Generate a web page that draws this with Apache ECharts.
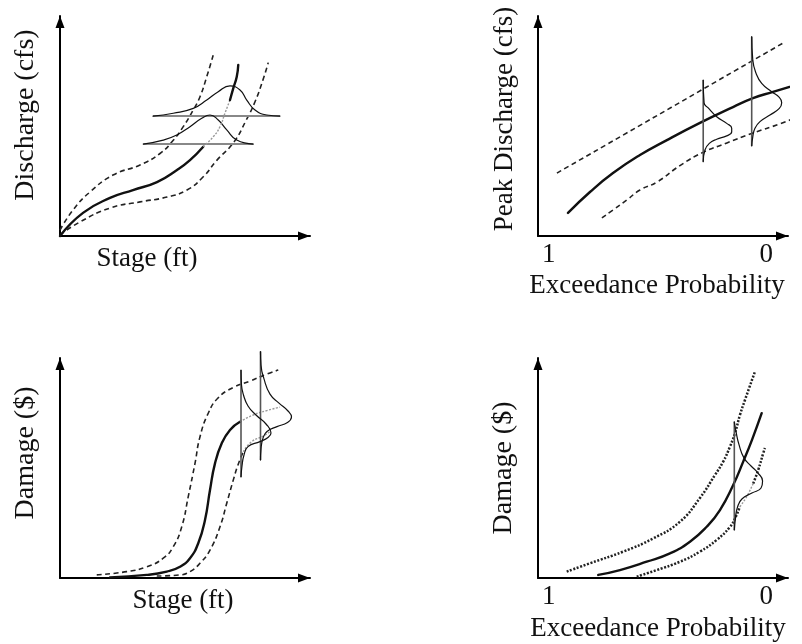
<!DOCTYPE html>
<html>
<head>
<meta charset="utf-8">
<script src="https://cdn.jsdelivr.net/npm/echarts@6/dist/echarts.min.js"></script>
<style>
  html, body { margin: 0; padding: 0; background: #fff; }
  #chart { width: 802px; height: 644px; }
</style>
</head>
<body>
<div id="chart"></div>
<script>
// ---- Panel A: stage–discharge rating curve (arbitrary units 0–10) ----
const ratingLow   = [[0,0],[0.92,1.05],[2.0,1.73],[2.92,2.09],[3.88,2.45],[4.68,3.0],[5.2,3.45],[5.73,4.06]];
const ratingMid   = [[5.73,4.06],[6.13,4.51],[6.4,4.97],[6.6,5.59],[6.8,6.18]];
const ratingHigh  = [[6.8,6.18],[6.93,6.71],[7.07,7.24],[7.13,7.77]];
const ratingUpper = [[0,0.27],[0.52,1.18],[1.2,2.0],[2.12,2.77],[3.2,3.23],[4.0,3.75],[4.53,4.35],[4.93,4.97],[5.33,5.73],[5.6,6.33],[5.87,7.24],[6.13,8.23]];
const ratingLower = [[0,0.05],[0.8,0.64],[2.0,1.27],[3.2,1.55],[4.28,1.77],[5.08,2.09],[5.72,2.68],[6.28,3.45],[6.95,4.26],[7.45,5.27],[7.8,6.1],[8.12,7.1],[8.33,7.88]];
const ratingPdfHigh  = [[3.72,5.45],[4.53,5.58],[5.33,5.8],[5.87,6.18],[6.33,6.56],[6.8,6.82],[7.2,6.64],[7.47,6.18],[7.8,5.73],[8.27,5.5],[8.8,5.45]];
const ratingBaseHigh = [[3.72,5.45],[8.8,5.45]];
const ratingPdfLow   = [[3.33,4.18],[4.13,4.36],[4.67,4.59],[5.2,4.97],[5.67,5.35],[6.0,5.5],[6.33,5.27],[6.67,4.82],[7.07,4.36],[7.73,4.18]];
const ratingBaseLow  = [[3.33,4.18],[7.73,4.18]];

// ---- Panel B: flow–frequency curve (x = exceedance probability) ----
const freqMain  = [[0.912,1.05],[0.811,2.0],[0.705,2.86],[0.581,3.68],[0.457,4.36],[0.305,5.14],[0.153,5.86],[0.061,6.27],[-0.031,6.55],[-0.164,6.95]];
const freqUpper = [[0.963,2.86],[0.438,5.84],[-0.086,8.82]];
const freqLower = [[0.756,0.82],[0.705,1.18],[0.641,1.64],[0.581,2.09],[0.503,2.45],[0.397,3.2],[0.291,3.8],[0.181,4.23],[0.061,4.68],[-0.063,5.1],[-0.164,5.5]];
const freqPdfA  = [[0.290,7.09],[0.286,6.05],[0.267,5.82],[0.228,5.42],[0.182,5.12],[0.159,4.90],[0.159,4.74],[0.182,4.55],[0.228,4.40],[0.262,4.21],[0.282,3.91],[0.290,3.38]];
const freqStemA = [[0.290,7.09],[0.290,3.38]];
const freqPdfB  = [[0.067,9.06],[0.062,8.0],[0.047,7.40],[0.021,6.94],[-0.025,6.56],[-0.060,6.30],[-0.071,6.06],[-0.060,5.80],[-0.017,5.5],[0.029,5.20],[0.052,4.90],[0.062,4.51],[0.067,4.09]];
const freqStemB = [[0.067,9.06],[0.067,4.09]];

// ---- Panel C: stage–damage curve ----
const dmgMain      = [[2.0,0.03],[3.47,0.14],[4.27,0.29],[4.8,0.51],[5.2,0.9],[5.53,1.58],[5.8,2.64],[6.0,4.0],[6.2,5.21],[6.47,6.12],[6.8,6.73],[7.2,7.1]];
const dmgMainTail  = [[7.2,7.1],[7.73,7.41],[8.27,7.61],[8.8,7.77]];
const dmgUpper     = [[1.47,0.14],[2.67,0.29],[3.47,0.51],[4.13,0.9],[4.53,1.42],[4.87,2.33],[5.13,3.7],[5.4,5.21],[5.6,6.42],[5.93,7.49],[6.32,8.18],[6.93,8.66],[7.6,8.95],[8.27,9.27],[8.73,9.45]];
const dmgLower     = [[3.87,0.09],[4.8,0.14],[5.2,0.29],[5.6,0.67],[6.0,1.27],[6.4,2.33],[6.67,3.4],[6.93,4.45],[7.12,5.14],[7.33,5.74]];
const dmgLowerTail = [[7.33,5.74],[7.67,6.2],[8.13,6.45],[8.44,6.68]];
const dmgPdfA  = [[7.24,9.45],[7.26,8.77],[7.34,8.32],[7.52,7.82],[7.84,7.41],[8.24,7.0],[8.44,6.59],[8.32,6.39],[8.0,6.2],[7.52,5.97],[7.36,5.59],[7.28,5.09],[7.24,4.59]];
const dmgStemA = [[7.24,9.45],[7.24,4.59]];
const dmgPdfB  = [[8.02,10.29],[8.04,9.68],[8.16,9.05],[8.4,8.36],[8.76,7.95],[9.12,7.59],[9.26,7.32],[9.1,7.07],[8.68,6.88],[8.28,6.66],[8.12,6.36],[8.04,5.86],[8.02,5.36]];
const dmgStemB = [[8.02,10.29],[8.02,5.36]];

// ---- Panel D: damage–frequency curve ----
const riskMain  = [[0.773,0.14],[0.673,0.36],[0.55,0.74],[0.443,1.12],[0.351,1.65],[0.274,2.33],[0.213,3.09],[0.152,4.23],[0.106,5.29],[0.066,6.27],[0.021,7.49]];
const riskUpper = [[0.918,0.29],[0.811,0.67],[0.658,1.2],[0.52,1.8],[0.397,2.56],[0.305,3.64],[0.236,4.68],[0.198,5.29],[0.167,5.97],[0.144,6.58],[0.121,7.41],[0.098,8.09],[0.052,9.38]];
const riskLower = [[0.596,0.06],[0.504,0.36],[0.397,0.74],[0.305,1.2],[0.228,1.73],[0.167,2.32],[0.144,2.71],[0.121,3.24]];
const riskLowerHidden = [[0.121,3.24],[0.09,3.7],[0.06,4.3]];
const riskLowerTop = [[0.06,4.3],[0.037,4.91],[0.014,5.67],[0.006,5.91]];
const riskPdf  = [[0.147,7.1],[0.139,6.64],[0.125,6.05],[0.102,5.45],[0.07,5.09],[0.038,4.77],[0.017,4.41],[0.024,4.09],[0.066,3.86],[0.112,3.59],[0.132,3.23],[0.141,2.77],[0.147,2.18]];
const riskStem = [[0.147,7.1],[0.147,2.18]];

// exceedance-probability tick labels
const probTicks = [1, 0];

const SERIF = 'Liberation Serif';
const INK = '#111';

const styles = {
  main:   { color: '#111', width: 2.4, cap: 'round' },
  band:   { color: '#222', width: 1.6, type: [5, 3.5], cap: 'butt' },
  dots:   { color: '#222', width: 2.5, type: [2, 1.6], cap: 'butt' },
  faint:  { color: '#9a9a9a', width: 1.4, type: [2, 1.5], cap: 'butt' },
  pdf:    { color: '#111', width: 1.2, cap: 'round' },
  base:   { color: '#888', width: 2, cap: 'butt' },
  stem:   { color: '#555', width: 1.6, cap: 'butt' }
};

function curve(grid, data, style, smooth) {
  return {
    type: 'line', xAxisIndex: grid, yAxisIndex: grid, data: data,
    smooth: smooth === undefined ? true : smooth,
    symbol: 'none', clip: false, silent: true,
    lineStyle: Object.assign({ join: 'round' }, style)
  };
}

const axisLine = {
  show: true, onZero: false,
  symbol: ['none', 'triangle'], symbolSize: [9, 12], symbolOffset: [0, -6],
  lineStyle: { color: '#000', width: 2 }
};
function nameText(size, pad) {
  return { fontFamily: SERIF, fontSize: size, color: INK, padding: pad };
}

function xStage(grid, pad) {
  return {
    gridIndex: grid, type: 'value', min: 0, max: 10,
    axisLine: axisLine, axisTick: { show: false }, splitLine: { show: false },
    axisLabel: { show: false },
    name: 'Stage (ft)', nameLocation: 'middle', nameGap: 9,
    nameTextStyle: nameText(27, pad)
  };
}
function xProb(grid, pad, gap) {
  return {
    gridIndex: grid, type: 'value', min: -0.1, max: 1.05, inverse: true,
    axisLine: axisLine,
    axisTick: { show: false }, splitLine: { show: false },
    axisLabel: { show: true, customValues: probTicks, margin: 5,
      fontFamily: SERIF, fontSize: 27, color: INK },
    name: 'Exceedance Probability', nameLocation: 'middle', nameGap: gap,
    nameTextStyle: nameText(27, pad)
  };
}
function yAxis(grid, name, size, pad) {
  return {
    gridIndex: grid, type: 'value', min: 0, max: 10,
    axisLine: axisLine, axisTick: { show: false }, splitLine: { show: false },
    axisLabel: { show: false },
    name: name, nameLocation: 'middle', nameRotate: 90, nameGap: 20,
    nameTextStyle: nameText(size, pad)
  };
}

const chart = echarts.init(document.getElementById('chart'), null, { renderer: 'canvas' });
chart.setOption({
  animation: false,
  backgroundColor: '#fff',
  grid: [
    { left: 60,  top: 16,  width: 250, height: 220 },
    { left: 538, top: 16,  width: 250, height: 220 },
    { left: 60,  top: 358, width: 250, height: 220 },
    { left: 538, top: 358, width: 250, height: 220 }
  ],
  xAxis: [
    xStage(0, [0, 76, 0, 0]),
    xProb(1, [0, 12, 0, 0], 36),
    xStage(2, [0, 4, 0, 0]),
    xProb(3, [0, 10, 0, 0], 37)
  ],
  yAxis: [
    yAxis(0, 'Discharge (cfs)', 28, [0, 0, 0, 22]),
    yAxis(1, 'Peak Discharge (cfs)', 27, [0, 0, 0, 14]),
    yAxis(2, 'Damage ($)', 28, [0, 0, 0, 30]),
    yAxis(3, 'Damage ($)', 28, [0, 0, 0, 0])
  ],
  series: [
    // A
    curve(0, ratingUpper, styles.band),
    curve(0, ratingLower, styles.band),
    curve(0, ratingBaseHigh, styles.base, false),
    curve(0, ratingBaseLow, styles.base, false),
    curve(0, ratingPdfHigh, styles.pdf),
    curve(0, ratingPdfLow, styles.pdf),
    curve(0, ratingLow, styles.main),
    curve(0, ratingMid, styles.faint),
    curve(0, ratingHigh, styles.main),
    // B
    curve(1, freqUpper, styles.band),
    curve(1, freqLower, styles.band),
    curve(1, freqMain, styles.main),
    curve(1, freqStemA, styles.stem, false),
    curve(1, freqStemB, styles.stem, false),
    curve(1, freqPdfA, styles.pdf),
    curve(1, freqPdfB, styles.pdf),
    // C
    curve(2, dmgUpper, styles.band),
    curve(2, dmgLower, styles.band),
    curve(2, dmgLowerTail, styles.faint),
    curve(2, dmgMain, styles.main),
    curve(2, dmgMainTail, styles.faint),
    curve(2, dmgStemA, styles.stem, false),
    curve(2, dmgStemB, styles.stem, false),
    curve(2, dmgPdfA, styles.pdf),
    curve(2, dmgPdfB, styles.pdf),
    // D
    curve(3, riskUpper, styles.dots),
    curve(3, riskLower, styles.dots),
    curve(3, riskLowerHidden, styles.faint),
    curve(3, riskLowerTop, styles.dots),
    curve(3, riskMain, styles.main),
    curve(3, riskStem, styles.stem, false),
    curve(3, riskPdf, styles.pdf)
  ]
});
</script>
</body>
</html>
